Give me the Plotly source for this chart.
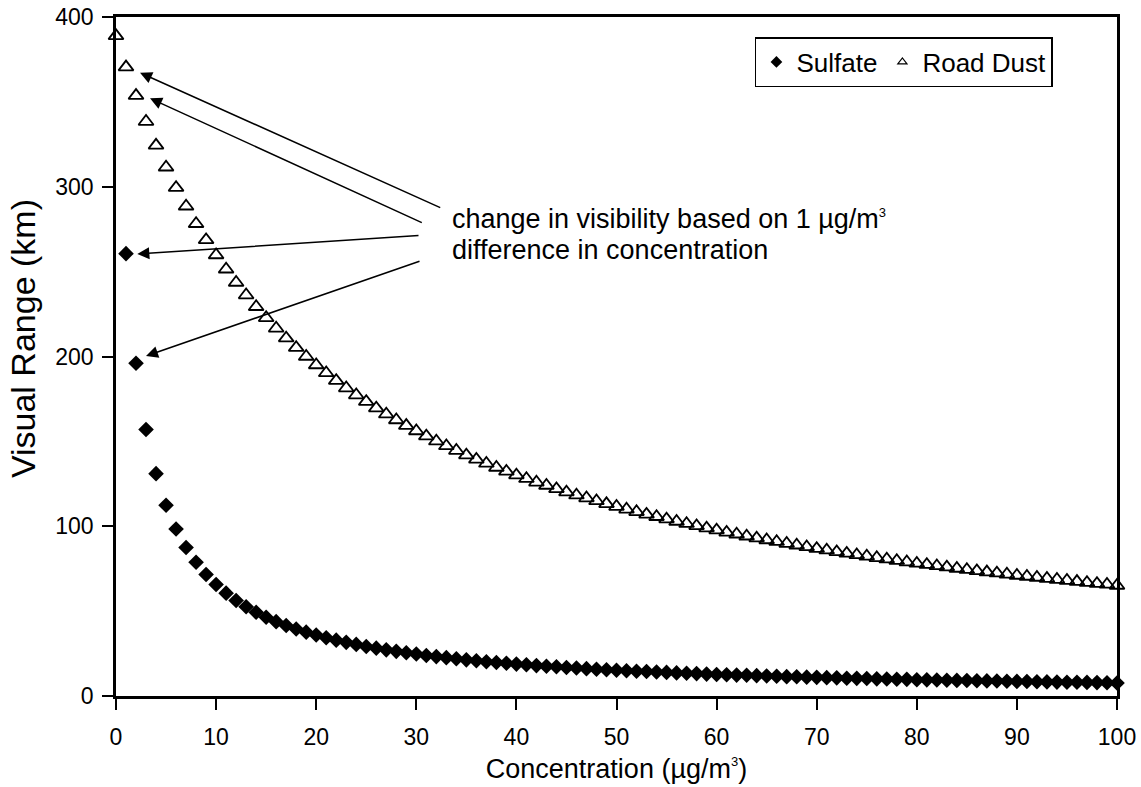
import plotly.graph_objects as go

concentration = list(range(0, 101))

sulfate_x = list(range(1, 101))
sulfate_vr = [
    260.6, 196.0, 157.0, 131.0, 112.4, 98.4, 87.5, 78.8, 71.6, 65.7,
    60.6, 56.3, 52.6, 49.3, 46.4, 43.8, 41.5, 39.5, 37.6, 35.9,
    34.3, 32.9, 31.6, 30.4, 29.2, 28.2, 27.2, 26.3, 25.5, 24.7,
    23.9, 23.2, 22.6, 21.9, 21.3, 20.8, 20.2, 19.7, 19.3, 18.8,
    18.4, 17.9, 17.5, 17.2, 16.8, 16.5, 16.1, 15.8, 15.5, 15.2,
    14.9, 14.6, 14.4, 14.1, 13.9, 13.6, 13.4, 13.2, 12.9, 12.7,
    12.5, 12.3, 12.2, 12.0, 11.8, 11.6, 11.4, 11.3, 11.1, 11.0,
    10.8, 10.7, 10.5, 10.4, 10.3, 10.1, 10.0, 9.9, 9.8, 9.6,
    9.5, 9.4, 9.3, 9.2, 9.1, 9.0, 8.9, 8.8, 8.7, 8.6,
    8.5, 8.4, 8.3, 8.2, 8.1, 8.1, 8.0, 7.9, 7.8, 7.7,
]

road_dust_vr = [
    388.9,
    370.5, 353.7, 338.4, 324.4, 311.5, 299.5, 288.5, 278.2, 268.7, 259.8,
    251.4, 243.6, 236.2, 229.3, 222.8, 216.6, 210.8, 205.2, 200.0, 195.0,
    190.3, 185.8, 181.4, 177.3, 173.4, 169.6, 166.0, 162.6, 159.3, 156.1,
    153.1, 150.1, 147.3, 144.6, 141.9, 139.4, 137.0, 134.6, 132.3, 130.1,
    128.0, 125.9, 124.0, 122.0, 120.1, 118.3, 116.6, 114.9, 113.2, 111.6,
    110.0, 108.5, 107.0, 105.6, 104.2, 102.8, 101.5, 100.2, 98.9, 97.7,
    96.4, 95.3, 94.1, 93.0, 91.9, 90.9, 89.8, 88.8, 87.8, 86.8,
    85.9, 84.9, 84.0, 83.1, 82.3, 81.4, 80.6, 79.7, 78.9, 78.1,
    77.4, 76.6, 75.9, 75.1, 74.4, 73.7, 73.0, 72.4, 71.7, 71.0,
    70.4, 69.8, 69.2, 68.6, 68.0, 67.4, 66.8, 66.2, 65.7, 65.1,
]

x_ticks = [0, 10, 20, 30, 40, 50, 60, 70, 80, 90, 100]
y_ticks = [0, 100, 200, 300, 400]

FONT = "Liberation Sans, Arial, sans-serif"
SUP3 = "<sup><span style='font-size:13px'>3</span></sup>"

fig = go.Figure()

# data traces
fig.add_trace(go.Scatter(
    x=sulfate_x, y=sulfate_vr, mode="markers", name="Sulfate",
    marker=dict(symbol="diamond", size=12, color="black"),
    cliponaxis=False, showlegend=False,
))
fig.add_trace(go.Scatter(
    x=concentration, y=road_dust_vr, mode="markers", name="Road Dust",
    marker=dict(symbol="triangle-up-open", size=13, color="black",
                line=dict(width=1.8, color="black")),
    cliponaxis=False, showlegend=False,
))
# legend entries (small symbols as in the reference)
fig.add_trace(go.Scatter(
    x=[None], y=[None], mode="markers", name="Sulfate",
    marker=dict(symbol="diamond", size=9, color="black"),
))
fig.add_trace(go.Scatter(
    x=[None], y=[None], mode="markers", name="Road Dust",
    marker=dict(symbol="triangle-up-open", size=8, color="black",
                line=dict(width=1.2, color="black")),
))

# arrows (head at x,y ; tail at ax,ay)
arrows = [
    (2.40, 367.2, 32.54, 287.3),
    (3.40, 352.1, 30.70, 278.5),
    (2.13, 260.4, 30.37, 271.4),
    (3.00, 200.3, 30.47, 256.4),
]
for hx, hy, tx, ty in arrows:
    fig.add_annotation(
        x=hx, y=hy, ax=tx, ay=ty, xref="x", yref="y", axref="x", ayref="y",
        text="", showarrow=True, arrowhead=2, arrowsize=1.6, arrowwidth=1.5,
        arrowcolor="black", standoff=0,
    )

fig.add_annotation(
    x=33.37, y=281.0, xref="x", yref="y", xanchor="left", yanchor="middle",
    text="change in visibility based on 1 µg/m" + SUP3, showarrow=False,
    font=dict(family=FONT, size=27, color="black"),
)
fig.add_annotation(
    x=33.37, y=262.5, xref="x", yref="y", xanchor="left", yanchor="middle",
    text="difference in concentration", showarrow=False,
    font=dict(family=FONT, size=27, color="black"),
)

# y-axis title (placed slightly above plot centre as in the reference)
fig.add_annotation(
    x=-0.093, y=0.527, xref="paper", yref="paper", xanchor="center", yanchor="middle",
    text="Visual Range (km)", textangle=-90, showarrow=False,
    font=dict(family=FONT, size=34, color="black"),
)

fig.update_layout(
    width=1141, height=787,
    margin=dict(l=116, r=24, t=17, b=91),
    paper_bgcolor="white", plot_bgcolor="white",
    font=dict(family=FONT, color="black"),
    legend=dict(
        orientation="h", x=0.936, xanchor="right", y=0.9705, yanchor="top",
        bordercolor="black", borderwidth=1.5, bgcolor="white",
        font=dict(family=FONT, size=26, color="black"),
        itemwidth=30, tracegroupgap=0,
    ),
)

fig.update_xaxes(
    range=[0, 100], tickvals=x_ticks, ticktext=[str(v) for v in x_ticks],
    showgrid=False, zeroline=False, automargin=False,
    showline=True, linecolor="black", linewidth=2.5, mirror=True,
    ticks="outside", ticklen=11, tickwidth=2, tickcolor="black",
    tickfont=dict(family=FONT, size=23, color="black"),
    ticklabelstandoff=8,
    title=dict(text="Concentration (µg/m" + SUP3 + ")",
               font=dict(family=FONT, size=27, color="black"), standoff=10),
)
fig.update_yaxes(
    range=[0, 400], tickvals=y_ticks, ticktext=[str(v) for v in y_ticks],
    showgrid=False, zeroline=False, automargin=False,
    showline=True, linecolor="black", linewidth=2.5, mirror=True,
    ticks="outside", ticklen=11, tickwidth=2, tickcolor="black",
    tickfont=dict(family=FONT, size=23, color="black"),
    ticklabelstandoff=4,
)

fig.write_html("out.html")
